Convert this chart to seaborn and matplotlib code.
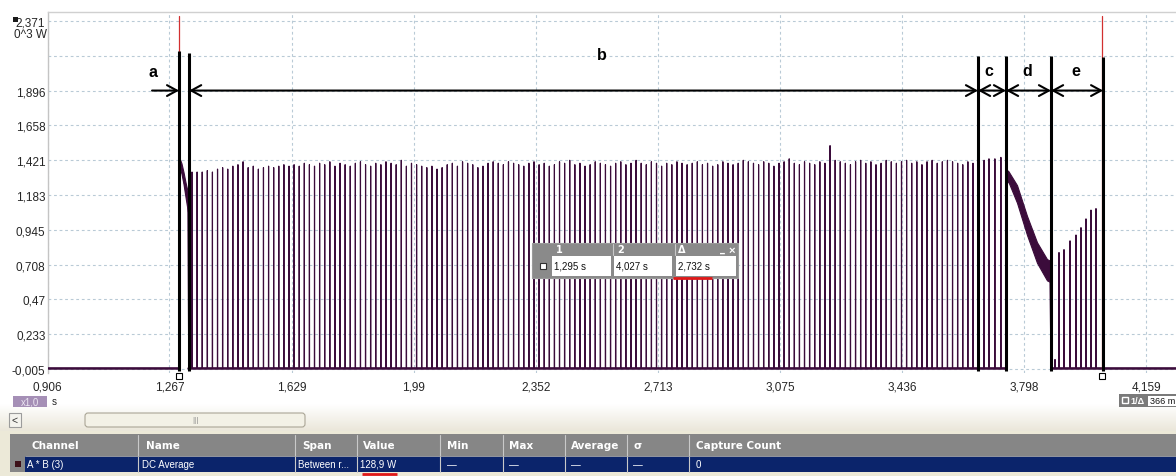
import numpy as np
import pandas as pd
import matplotlib
matplotlib.use("Agg")
import matplotlib.pyplot as plt
from matplotlib.patches import Rectangle, FancyBboxPatch
import seaborn as sns

# ---------------- axis scales ----------------
x_ticks = [0.906, 1.267, 1.629, 1.990, 2.352, 2.713, 3.075, 3.436, 3.798, 4.159, 4.519]
x_labels = ["0,906", "1,267", "1,629", "1,99", "2,352", "2,713", "3,075", "3,436", "3,798", "4,159", ""]
y_ticks = [-0.005, 0.233, 0.470, 0.708, 0.945, 1.183, 1.421, 1.658, 1.896, 2.133, 2.371]
y_labels = ["-0,005", "0,233", "0,47", "0,708", "0,945", "1,183", "1,421", "1,658", "1,896", "", "2,371"]

# ---------------- cursors (s) ----------------
cursor_times = [1.295, 4.027]

# ---------------- power trace A*B (kW) ----------------
baseline_level = 0.0

# start-up transient right after cursor 1
start_t = [1.2960, 1.3025, 1.3085, 1.3145, 1.3215]
start_hi = [1.44, 1.40, 1.34, 1.27, 1.20]
start_lo = [1.38, 1.33, 1.26, 1.17, 1.07]

# steady pulse train (phase b)
pulse_start = 1.3338
pulse_period = 0.01511
pulse_heights = [
    1.34, 1.34, 1.34, 1.35, 1.34, 1.36, 1.37, 1.36, 1.38, 1.39, 1.41, 1.37, 1.38, 1.36, 1.37, 1.38, 1.37, 1.38, 1.39, 1.38,
    1.39, 1.38, 1.40, 1.39, 1.38, 1.40, 1.39, 1.41, 1.38, 1.40, 1.39, 1.38, 1.40, 1.41, 1.39, 1.38, 1.40, 1.39, 1.41, 1.40,
    1.39, 1.42, 1.38, 1.40, 1.39, 1.38, 1.37, 1.38, 1.36, 1.37, 1.39, 1.40, 1.38, 1.41, 1.40, 1.39, 1.37, 1.38, 1.40, 1.41,
    1.40, 1.39, 1.41, 1.40, 1.39, 1.38, 1.40, 1.41, 1.39, 1.40, 1.38, 1.39, 1.41, 1.40, 1.42, 1.39, 1.40, 1.38, 1.39, 1.41,
    1.40, 1.39, 1.38, 1.40, 1.41, 1.39, 1.40, 1.42, 1.40, 1.39, 1.41, 1.40, 1.38, 1.40, 1.39, 1.41, 1.40, 1.39, 1.40, 1.41,
    1.39, 1.40, 1.38, 1.39, 1.41, 1.40, 1.39, 1.40, 1.42, 1.41, 1.40, 1.39, 1.41, 1.40, 1.38, 1.40, 1.41, 1.43, 1.40, 1.39,
    1.41, 1.40, 1.39, 1.41, 1.40, 1.52, 1.42, 1.41, 1.40, 1.39, 1.41, 1.42, 1.40, 1.41, 1.39, 1.40, 1.42, 1.41, 1.40, 1.41,
    1.42, 1.40, 1.41, 1.39, 1.41, 1.42, 1.40, 1.41, 1.42, 1.41, 1.40, 1.39, 1.41, 1.40,
]

# phase c pulses
c_times = [3.6785, 3.6930, 3.7105, 3.7283]
c_heights = [1.42, 1.43, 1.43, 1.44]

# phase d: continuous decaying band
d_t = [3.7435, 3.7493, 3.7760, 3.8056, 3.8352, 3.8648, 3.8737]
d_hi = [1.32, 1.35, 1.25, 1.04, 0.86, 0.745, 0.735]
d_lo = [1.25, 1.28, 1.13, 0.91, 0.72, 0.600, 0.590]

# phase e pulses
e_times = [3.8885, 3.9003, 3.9151, 3.9329, 3.9506, 3.9654, 3.9802, 3.9950, 4.0098]
e_heights = [0.06, 0.79, 0.81, 0.87, 0.91, 0.96, 1.02, 1.08, 1.09]

# phase markers
phase_bounds = [1.2956, 1.3252, 3.6606, 3.7435, 3.8767, 4.031]
phase_tops = [2.166, 2.152, 2.132, 2.132, 2.132, 2.125]
phase_names = ["a", "b", "c", "d", "e"]
phase_label_x = [1.218, 2.547, 3.693, 3.806, 3.951]
phase_label_y = [2.023, 2.140, 2.030, 2.030, 2.030]
arrow_level = 1.896
arrow_a_start = 1.2155

# measurement table
table_cols = ["Channel", "Name", "Span", "Value", "Min", "Max", "Average", "\u03c3", "Capture Count"]
table_row = ["A * B (3)", "DC Average", "Between r...", "128,9 W", "\u2014", "\u2014", "\u2014", "\u2014", "0"]

# ---------------- style ----------------
sns.set_style("white")
plt.rcParams["font.family"] = ["Liberation Sans", "DejaVu Sans"]

W, H = 1176, 477
fig = plt.figure(figsize=(W / 100, H / 100), dpi=100)
fig.patch.set_facecolor("white")

# plot area in pixels: left 47.5, top 13, bottom 374, right runs off the window
ax_left, ax_top, ax_bot, ax_right = 47.5, 13, 374, 1268
ax = fig.add_axes([ax_left / W, 1 - ax_bot / H, (ax_right - ax_left) / W, (ax_bot - ax_top) / H])
ax.set_xlim(0.906, 4.519)
ax.set_ylim(-0.0323, 2.4324)

trace_col = "#3b0c3b"

# ---------------- build trace ----------------
pulse_t = pulse_start + pulse_period * np.arange(len(pulse_heights))
dt = 0.0004


def spikes(ts, hs):
    pts = []
    for t, h in zip(ts, hs):
        pts += [(t - dt, baseline_level), (t, h), (t + dt, baseline_level)]
    return pts


seg0 = [(0.906, baseline_level), (phase_bounds[0], baseline_level)]
seg0 += [(t, (hi + lo) / 2) for t, hi, lo in zip(start_t, start_hi, start_lo)]
seg0 += [(phase_bounds[1] - 0.001, baseline_level)]
seg0 += spikes(pulse_t, pulse_heights)
seg0 += spikes(c_times, c_heights)
seg0 += [(d_t[0], baseline_level), (d_t[0], d_hi[0])]

seg1 = [(d_t[-1], d_lo[-1]), (phase_bounds[4], baseline_level)]
seg1 += spikes(e_times, e_heights)
seg1 += [(4.519, baseline_level)]

rows = []
for k, seg in enumerate([seg0, seg1]):
    for t, v in seg:
        rows.append((k, t, v))
df = pd.DataFrame(rows, columns=["seg", "t", "v"])

sns.lineplot(data=df, x="t", y="v", units="seg", estimator=None, sort=False,
             color=trace_col, lw=0.85, ax=ax, legend=False, zorder=3)

# thicker baseline portions
base_rows = []
for k, (t0, t1) in enumerate([(0.906, phase_bounds[0]), (phase_bounds[1] - 0.002, d_t[0]), (phase_bounds[4], 4.519)]):
    base_rows += [(k, t0, baseline_level), (k, t1, baseline_level)]
bdf = pd.DataFrame(base_rows, columns=["seg", "t", "v"])
sns.lineplot(data=bdf, x="t", y="v", units="seg", estimator=None, sort=False,
             color=trace_col, lw=1.8, ax=ax, legend=False, zorder=3)

# transient bands
ax.fill_between(start_t, start_lo, start_hi, color=trace_col, lw=0.8, zorder=3)
ax.fill_between(d_t, d_lo, d_hi, color=trace_col, lw=0.8, edgecolor=trace_col, zorder=3)

# ---------------- grid, ticks ----------------
ax.set_xticks(x_ticks, labels=x_labels)
ax.set_yticks(y_ticks, labels=y_labels)
ax.grid(True, color="#b9cad6", lw=0.8, ls=(0, (2.5, 2.5)))
ax.set_axisbelow(True)
ax.tick_params(axis="both", length=0, labelsize=8.5, labelcolor="#262626")
ax.tick_params(axis="y", pad=1.5)
ax.tick_params(axis="x", pad=5.5)
ax.set_xlabel("")
ax.set_ylabel("")
for s in ["right", "bottom"]:
    ax.spines[s].set_visible(False)
ax.spines["left"].set_color("#c4c4c4")
ax.spines["top"].set_color("#d0d0d0")
ax.spines["left"].set_linewidth(1.0)
ax.spines["top"].set_linewidth(1.0)

# ---------------- cursors ----------------
for ct in cursor_times:
    ax.plot([ct, ct], [-0.012, 2.405], color="#d23030", lw=0.9, zorder=4)
ax.plot(cursor_times, [-0.053] * 2, ls="none", marker="s", ms=4.3, mfc="white",
        mec="black", mew=0.8, clip_on=False, zorder=8)

# ---------------- phase markers ----------------
ax.vlines(phase_bounds, ymin=-0.02, ymax=phase_tops, color="black", lw=2.2, zorder=6)
arrow_kw = dict(lw=1.5, color="black", shrinkA=0, shrinkB=0, mutation_scale=13)
ax.annotate("", xy=(phase_bounds[0], arrow_level), xytext=(arrow_a_start, arrow_level),
            arrowprops=dict(arrowstyle="->,head_length=0.55,head_width=0.3", **arrow_kw), zorder=6)
for x0, x1 in zip(phase_bounds[1:-1], phase_bounds[2:]):
    ax.annotate("", xy=(x1, arrow_level), xytext=(x0, arrow_level),
                arrowprops=dict(arrowstyle="<->,head_length=0.55,head_width=0.3", **arrow_kw), zorder=6)
for name, lx, ly in zip(phase_names, phase_label_x, phase_label_y):
    ax.text(lx, ly, name, ha="center", va="center", fontsize=11.5, fontweight="bold", color="black", zorder=7)

# ---------------- window chrome (pixel overlay) ----------------
ov = fig.add_axes([0, 0, 1, 1], zorder=10)
ov.axis("off")


def rect(x0, y0, x1, y1, fc, ec="none", lw=0.0, z=1):
    ov.add_patch(Rectangle((x0, y0), x1 - x0, y1 - y0, facecolor=fc, edgecolor=ec, linewidth=lw, zorder=z))


# y-axis unit block
rect(13, 18, 18, 23, "#1a1a1a")
ov.text(47, 35, "0^3 W", ha="right", va="center", fontsize=8.5, color="#262626")

# cursor readout box
rect(532, 244, 738, 279, "#8a8a8a", ec="#9a9a9a", lw=0.8)
for x0, x1 in [(552, 611), (614, 672), (676, 736)]:
    rect(x0, 257, x1, 277, "white")
for xs in [612.5, 674.5]:
    ov.plot([xs, xs], [245, 256], color="#c8c8c8", lw=0.8, zorder=2)
rect(540, 264, 546, 270, "white", ec="#303030", lw=0.8, z=3)
hdr_kw = dict(va="center", ha="left", fontsize=7, color="white", fontweight="bold", family="DejaVu Sans")
ov.text(556, 250.5, "1", **hdr_kw)
ov.text(617, 250.5, "2", **hdr_kw)
ov.text(678, 250.5, "\u0394", **hdr_kw)
ov.text(720, 249.5, "_", **hdr_kw)
ov.text(729, 250.5, "\u00d7", va="center", ha="left", fontsize=8, color="white", fontweight="bold")


def fmt_s(v):
    return f"{v:.3f}".replace(".", ",") + " s"


cell_kw = dict(va="center", ha="left", fontsize=7, color="#111111")
ov.text(554, 267, fmt_s(cursor_times[0]), **cell_kw)
ov.text(616, 267, fmt_s(cursor_times[1]), **cell_kw)
ov.text(678, 267, fmt_s(cursor_times[1] - cursor_times[0]), **cell_kw)
ov.plot([673, 712], [278.5, 278.5], color="#e01818", lw=2.0, solid_capstyle="butt", zorder=4)

# timebase badge
rect(13, 397, 47, 408, "#a58fb6")
ov.text(30, 402.5, "x1,0", ha="center", va="center", fontsize=7, color="#ece6f2")
ov.text(52, 402.5, "s", ha="left", va="center", fontsize=7, color="#222222")

# ruler readout on the right
rect(1119, 395, 1176, 408, "#7a7a7a")
rect(1122, 398, 1128, 404, "none", ec="white", lw=1.0, z=2)
ov.text(1130, 401.5, "1/\u0394", ha="left", va="center", fontsize=6.5, color="white", fontweight="bold")
rect(1148, 396.5, 1176, 406.5, "white", z=2)
ov.text(1150, 401.5, "366 m", ha="left", va="center", fontsize=6.5, color="#111111", zorder=3)

# beige toolbar gradient behind the scrollbar
grad_top = np.array([1.0, 1.0, 1.0])
grad_bot = np.array([0.914, 0.898, 0.843])
g = np.linspace(0, 1, 60)[:, None, None]
grad = grad_top * (1 - g) + grad_bot * g
ov.imshow(grad, extent=[0, W, 434, 405], aspect="auto", zorder=0.5, interpolation="bilinear")

# scrollbar
rect(9, 414, 21, 428, "#f4f3ee", ec="#9c9c9c", lw=0.8, z=2)
ov.text(15, 421, "<", ha="center", va="center", fontsize=7.5, color="#333333", zorder=3)
ov.add_patch(FancyBboxPatch((85, 414), 220, 14, boxstyle="round,pad=0,rounding_size=3",
                            facecolor="#f3f1e6", edgecolor="#aaa596", linewidth=0.8, zorder=2))
ov.text(195, 421, "|||", ha="center", va="center", fontsize=6, color="#8a8a8a", zorder=3)

# measurement table
rect(0, 432, W, H, "#ece9d8", z=0.8)
rect(10, 435, W, 457, "#868686", z=1)
rect(10, 457, 25, 473, "#868686", z=1)
rect(25, 457, W, 473, "#0b246b", z=1)
rect(15, 462, 21, 468, "#3d1018", z=2)
col_x = [32, 146, 302, 363, 447, 509, 571, 633, 696]
sep_x = [138, 295, 357, 440, 503, 565, 627, 689]
for xs in sep_x:
    ov.plot([xs, xs], [436, 473], color="#c9c9c9", lw=0.8, zorder=2)
ov.plot([25, W], [457, 457], color="#a9a9a9", lw=0.6, zorder=2)
row_x = [27, 142, 298, 360, 447, 509, 571, 633, 696]
for x, s in zip(col_x, table_cols):
    ov.text(x, 446, s, ha="left", va="center", fontsize=7.5, fontweight="bold",
            color="white", family="DejaVu Sans", zorder=3)
for x, s in zip(row_x, table_row):
    ov.text(x, 465, s, ha="left", va="center", fontsize=7, color="white", zorder=3)
ov.plot([362, 397], [474.8, 474.8], color="#e01818", lw=2.0, solid_capstyle="butt", zorder=4)

ov.set_xlim(0, W)
ov.set_ylim(H, 0)

fig.savefig("out.png", dpi=100)
